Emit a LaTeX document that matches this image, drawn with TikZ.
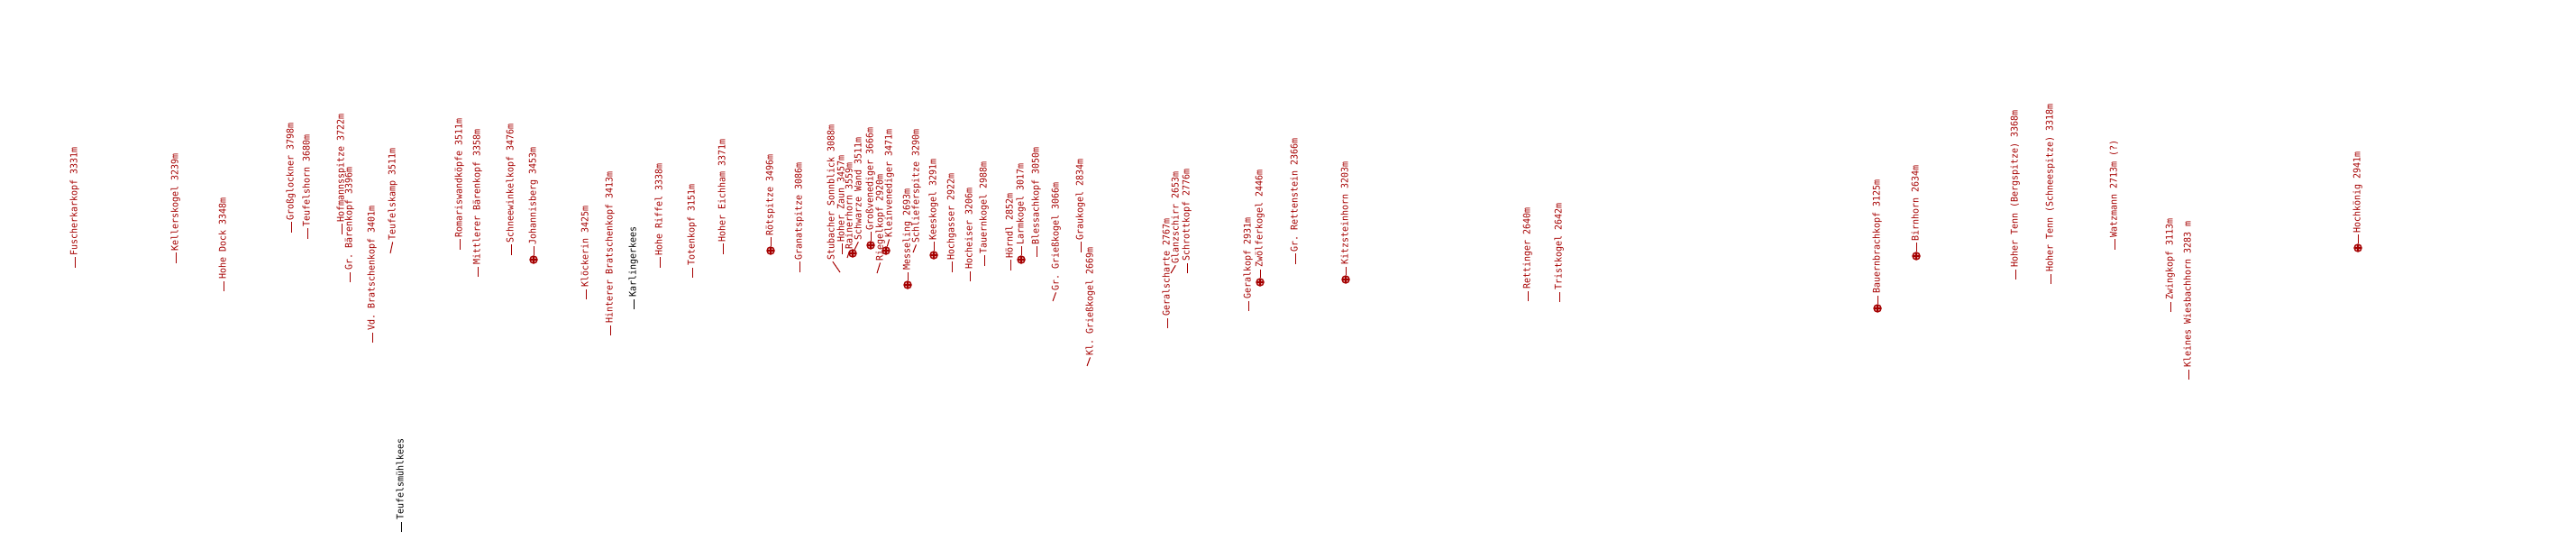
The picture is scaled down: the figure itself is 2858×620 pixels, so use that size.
\documentclass[tikz,border=0pt]{standalone}
\usepackage{fontspec}
\setmonofont{DejaVu Sans Mono}
\definecolor{gipfelrot}{RGB}{165,0,0}

\begin{document}
\begin{tikzpicture}[x=1pt,y=-1pt,
	bergname/.style={rotate=90,yscale=1.05,anchor=west,inner sep=0pt,text height=7pt,text depth=2pt,font=\ttfamily\fontsize{10}{12}\selectfont,text=gipfelrot},
	keesname/.style={bergname,text=black},
	strich/.style={draw=gipfelrot,line width=1pt,shorten >=1.5pt},
	keesstrich/.style={strich,draw=black},
	gipfel/.style={circle,draw=gipfelrot,fill=gipfelrot!30,line width=1.4pt,minimum size=8pt,inner sep=0pt,
		path picture={\draw[gipfelrot,line width=1.2pt] (path picture bounding box.north) -- (path picture bounding box.south) (path picture bounding box.west) -- (path picture bounding box.east);}}]

		% picture frame
		\useasboundingbox (0,0) rectangle (2858,620);

		% Glocknergruppe
		\coordinate (fusch) at (83,297); \node[bergname] (fuschT) at (83,284) {Fuscherkarkopf 3331m}; \draw[strich] (fusch) -- (fuschT.west);
		\coordinate (keller) at (195,292); \node[bergname] (kellerT) at (195,279) {Kellerskogel 3239m}; \draw[strich] (keller) -- (kellerT.west);
		\coordinate (dock) at (248,323); \node[bergname] (dockT) at (248,310) {Hohe Dock 3348m}; \draw[strich] (dock) -- (dockT.west);
		\coordinate (glockner) at (323,258); \node[bergname] (glocknerT) at (323,245) {Großglockner 3798m}; \draw[strich] (glockner) -- (glocknerT.west);
		\coordinate (thorn) at (341,265); \node[bergname] (thornT) at (341,252) {Teufelshorn 3680m}; \draw[strich] (thorn) -- (thornT.west);
		\coordinate (hofmann) at (379,260); \node[bergname] (hofmannT) at (379,247) {Hofmannsspitze 3722m}; \draw[strich] (hofmann) -- (hofmannT.west);
		\coordinate (baeren) at (388,313); \node[bergname] (baerenT) at (388,300) {Gr. Bärenkopf 3396m}; \draw[strich] (baeren) -- (baerenT.west);
		\coordinate (vdbrat) at (413,380); \node[bergname] (vdbratT) at (413,367) {Vd. Bratschenkopf 3401m}; \draw[strich] (vdbrat) -- (vdbratT.west);
		\coordinate (tkamp) at (433,281); \node[bergname] (tkampT) at (436,267) {Teufelskamp 3511m}; \draw[strich] (tkamp) -- (tkampT.west);
		\coordinate (romaris) at (510,277); \node[bergname] (romarisT) at (510,264) {Romariswandköpfe 3511m}; \draw[strich] (romaris) -- (romarisT.west);
		\coordinate (mittl) at (530,307); \node[bergname] (mittlT) at (530,294) {Mittlerer Bärenkopf 3358m}; \draw[strich] (mittl) -- (mittlT.west);
		\coordinate (schnee) at (567,283); \node[bergname] (schneeT) at (567,270) {Schneewinkelkopf 3476m}; \draw[strich] (schnee) -- (schneeT.west);
		\node[gipfel] (johann) at (592,288) {}; \node[bergname] (johannT) at (592,272) {Johannisberg 3453m}; \draw[strich] (johann) -- (johannT.west);
		\coordinate (kloeck) at (650,332); \node[bergname] (kloeckT) at (650,319) {Klöckerin 3425m}; \draw[strich] (kloeck) -- (kloeckT.west);
		\coordinate (hbrat) at (677,372); \node[bergname] (hbratT) at (677,359) {Hinterer Bratschenkopf 3413m}; \draw[strich] (hbrat) -- (hbratT.west);
		\coordinate (riffel) at (732,297); \node[bergname] (riffelT) at (732,284) {Hohe Riffel 3338m}; \draw[strich] (riffel) -- (riffelT.west);
		\coordinate (toten) at (768,308); \node[bergname] (totenT) at (768,295) {Totenkopf 3151m}; \draw[strich] (toten) -- (totenT.west);
		\coordinate (eich) at (802,282); \node[bergname] (eichT) at (802,269) {Hoher Eichham 3371m}; \draw[strich] (eich) -- (eichT.west);

		% Gletscher
		\coordinate (tmkees) at (445,590); \node[keesname] (tmkeesT) at (445,577) {Teufelsmühlkees}; \draw[keesstrich] (tmkees) -- (tmkeesT.west);
		\coordinate (karl) at (703,343); \node[keesname] (karlT) at (703,330) {Karlingerkees}; \draw[keesstrich] (karl) -- (karlT.west);

		% Venedigergruppe
		\node[gipfel] (roet) at (855,278) {}; \node[bergname] (roetT) at (855,262) {Rötspitze 3496m}; \draw[strich] (roet) -- (roetT.west);
		\coordinate (granat) at (887,302); \node[bergname] (granatT) at (887,289) {Granatspitze 3086m}; \draw[strich] (granat) -- (granatT.west);
		\coordinate (stub) at (932,302); \node[bergname] (stubT) at (923,289) {Stubacher Sonnblick 3088m}; \draw[strich] (stub) -- (stubT.west);
		\coordinate (zaun) at (934,282); \node[bergname] (zaunT) at (934,269) {Hoher Zaun 3457m}; \draw[strich] (zaun) -- (zaunT.west);
		\coordinate (rainer) at (940,286); \node[bergname] (rainerT) at (943,277) {Rainerhorn 3559m}; \draw[strich] (rainer) -- (rainerT.west);
		\node[gipfel] (schwarz) at (946,281) {}; \node[bergname] (schwarzT) at (953,267) {Schwarze Wand 3511m}; \draw[strich] (schwarz) -- (schwarzT.west);
		\node[gipfel] (grossv) at (966,272) {}; \node[bergname] (grossvT) at (966,256) {Großvenediger 3666m}; \draw[strich] (grossv) -- (grossvT.west);
		\coordinate (riegel) at (973,303); \node[bergname] (riegelT) at (977,290) {Riegelkopf 2920m}; \draw[strich] (riegel) -- (riegelT.west);
		\node[gipfel] (kleinv) at (983,278) {}; \node[bergname] (kleinvT) at (987,264) {Kleinvenediger 3471m}; \draw[strich] (kleinv) -- (kleinvT.west);
		\node[gipfel] (messel) at (1007,316) {}; \node[bergname] (messelT) at (1007,300) {Messeling 2693m}; \draw[strich] (messel) -- (messelT.west);
		\coordinate (schlief) at (1013,280); \node[bergname] (schliefT) at (1017,270) {Schlieferspitze 3290m}; \draw[strich] (schlief) -- (schliefT.west);
		\node[gipfel] (keesk) at (1036,283) {}; \node[bergname] (keeskT) at (1036,267) {Keeskogel 3291m}; \draw[strich] (keesk) -- (keeskT.west);

		% Ankogel und Goldberg
		\coordinate (hgasser) at (1056,302); \node[bergname] (hgasserT) at (1056,289) {Hochgasser 2922m}; \draw[strich] (hgasser) -- (hgasserT.west);
		\coordinate (heiser) at (1076,312); \node[bergname] (heiserT) at (1076,299) {Hocheiser 3206m}; \draw[strich] (heiser) -- (heiserT.west);
		\coordinate (tauern) at (1092,295); \node[bergname] (tauernT) at (1092,282) {Tauernkogel 2988m}; \draw[strich] (tauern) -- (tauernT.west);
		\coordinate (hoerndl) at (1121,300); \node[bergname] (hoerndlT) at (1121,287) {Hörndl 2852m}; \draw[strich] (hoerndl) -- (hoerndlT.west);
		\node[gipfel] (larm) at (1133,288) {}; \node[bergname] (larmT) at (1133,272) {Larmkogel 3017m}; \draw[strich] (larm) -- (larmT.west);
		\coordinate (bless) at (1150,285); \node[bergname] (blessT) at (1150,272) {Blessachkopf 3050m}; \draw[strich] (bless) -- (blessT.west);
		\coordinate (ggries) at (1168,334); \node[bergname] (ggriesT) at (1172,323) {Gr. Grießkogel 3066m}; \draw[strich] (ggries) -- (ggriesT.west);
		\coordinate (grau) at (1199,280); \node[bergname] (grauT) at (1199,267) {Graukogel 2834m}; \draw[strich] (grau) -- (grauT.west);
		\coordinate (kgries) at (1206,406); \node[bergname] (kgriesT) at (1210,395) {Kl. Grießkogel 2669m}; \draw[strich] (kgries) -- (kgriesT.west);
		\coordinate (geralsch) at (1295,364); \node[bergname] (geralschT) at (1295,351) {Geralscharte 2767m}; \draw[strich] (geralsch) -- (geralschT.west);
		\coordinate (glanz) at (1299,303); \node[bergname] (glanzT) at (1305,293) {Glanzschirr 2653m}; \draw[strich] (glanz) -- (glanzT.west);
		\coordinate (schrott) at (1317,303); \node[bergname] (schrottT) at (1317,290) {Schrottkopf 2776m}; \draw[strich] (schrott) -- (schrottT.west);
		\coordinate (geralk) at (1385,345); \node[bergname] (geralkT) at (1385,332) {Geralkopf 2931m}; \draw[strich] (geralk) -- (geralkT.west);
		\node[gipfel] (zwoelf) at (1398,313) {}; \node[bergname] (zwoelfT) at (1398,297) {Zwölferkogel 2446m}; \draw[strich] (zwoelf) -- (zwoelfT.west);
		\coordinate (retten) at (1437,293); \node[bergname] (rettenT) at (1437,280) {Gr. Rettenstein 2366m}; \draw[strich] (retten) -- (rettenT.west);
		\node[gipfel] (kitz) at (1493,310) {}; \node[bergname] (kitzT) at (1493,294) {Kitzsteinhorn 3203m}; \draw[strich] (kitz) -- (kitzT.west);

		% Kitzbuehler Alpen und Berchtesgaden
		\coordinate (rettinger) at (1695,334); \node[bergname] (rettingerT) at (1695,321) {Rettinger 2640m}; \draw[strich] (rettinger) -- (rettingerT.west);
		\coordinate (trist) at (1730,335); \node[bergname] (tristT) at (1730,322) {Tristkogel 2642m}; \draw[strich] (trist) -- (tristT.west);
		\node[gipfel] (bauern) at (2083,342) {}; \node[bergname] (bauernT) at (2083,326) {Bauernbrachkopf 3125m}; \draw[strich] (bauern) -- (bauernT.west);
		\node[gipfel] (birn) at (2126,284) {}; \node[bergname] (birnT) at (2126,268) {Birnhorn 2634m}; \draw[strich] (birn) -- (birnT.west);
		\coordinate (tennb) at (2236,310); \node[bergname] (tennbT) at (2236,297) {Hoher Tenn (Bergspitze) 3368m}; \draw[strich] (tennb) -- (tennbT.west);
		\coordinate (tenns) at (2275,315); \node[bergname] (tennsT) at (2275,302) {Hoher Tenn (Schneespitze) 3318m}; \draw[strich] (tenns) -- (tennsT.west);
		\coordinate (watz) at (2346,277); \node[bergname] (watzT) at (2346,264) {Watzmann 2713m (?)}; \draw[strich] (watz) -- (watzT.west);
		\coordinate (zwing) at (2408,346); \node[bergname] (zwingT) at (2408,333) {Zwingkopf 3113m}; \draw[strich] (zwing) -- (zwingT.west);
		\coordinate (kwies) at (2428,421); \node[bergname] (kwiesT) at (2428,408) {Kleines Wiesbachhorn 3283 m}; \draw[strich] (kwies) -- (kwiesT.west);
		\node[gipfel] (hochk) at (2616,275) {}; \node[bergname] (hochkT) at (2616,259) {Hochkönig 2941m}; \draw[strich] (hochk) -- (hochkT.west);

	\end{tikzpicture}
\end{document}
